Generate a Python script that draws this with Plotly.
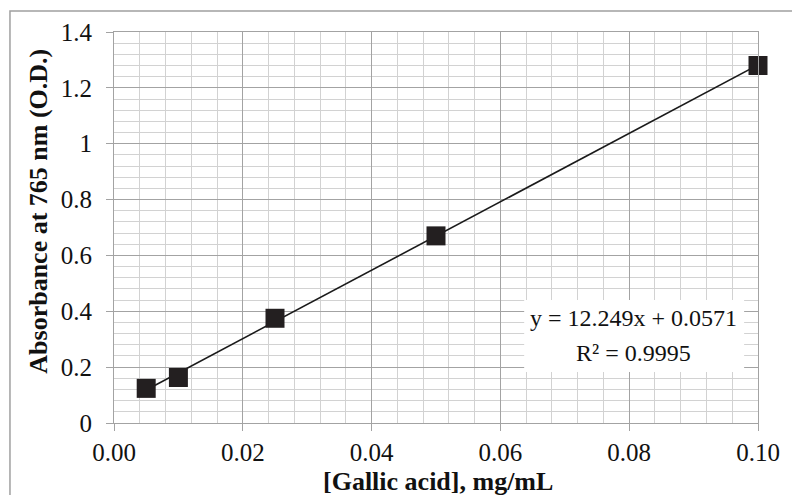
import plotly.graph_objects as go

# Data
conc = [0.005, 0.010, 0.025, 0.050, 0.100]          # [Gallic acid], mg/mL
absorb = [0.124, 0.163, 0.375, 0.670, 1.280]        # Absorbance at 765 nm
slope = 12.249
intercept = 0.0571
eq_text = "y = 12.249x + 0.0571"
r2_text = "R² = 0.9995"
x_title = "[Gallic acid], mg/mL"
y_title = "Absorbance at 765 nm (O.D.)"

fit_x = [min(conc), max(conc)]
fit_y = [slope * v + intercept for v in fit_x]

FONT = "Liberation Serif, Times New Roman, serif"
MAJOR = "#a3a3a3"
MINOR = "#d2d2d2"

fig = go.Figure()
fig.add_trace(go.Scatter(x=fit_x, y=fit_y, mode="lines",
                         line=dict(color="#1a1a1a", width=1.6),
                         hoverinfo="skip", showlegend=False, cliponaxis=False))
fig.add_trace(go.Scatter(x=conc, y=absorb, mode="markers",
                         marker=dict(symbol="square", size=19, color="#231f20",
                                     line=dict(width=0)),
                         showlegend=False, cliponaxis=False))

W, H = 792, 495
L, R, T, B = 114, 28, 32, 72
pw, ph = W - L - R, H - T - B

def px2paper_x(px):
    return (px - L) / pw

def px2paper_y(py):
    return (H - B - py) / ph

fig.update_layout(
    width=W, height=H,
    margin=dict(l=L, r=R, t=T, b=B),
    paper_bgcolor="white", plot_bgcolor="white",
    font=dict(family=FONT, size=25, color="#111111"),
    xaxis=dict(range=[0, 0.10], dtick=0.02, tick0=0, tickformat=".2f",
               showgrid=True, gridcolor=MAJOR, gridwidth=1,
               minor=dict(dtick=0.004, showgrid=True, gridcolor=MINOR, gridwidth=1),
               showline=True, linecolor=MAJOR, linewidth=1, mirror=True,
               ticks="outside", ticklen=7, tickcolor=MAJOR,
               zeroline=False, tickfont=dict(size=25)),
    yaxis=dict(range=[0, 1.4], dtick=0.2, tick0=0,
               showgrid=True, gridcolor=MAJOR, gridwidth=1,
               minor=dict(dtick=0.04, showgrid=True, gridcolor=MINOR, gridwidth=1),
               showline=True, linecolor=MAJOR, linewidth=1, mirror=True,
               ticks="outside", ticklen=7, tickcolor=MAJOR,
               ticklabelstandoff=9,
               zeroline=False, tickfont=dict(size=25)),
    shapes=[
        # outer chart border
        dict(type="rect", xref="paper", yref="paper",
             x0=px2paper_x(9), x1=px2paper_x(830),
             y0=px2paper_y(540), y1=px2paper_y(11),
             line=dict(color="#a0a0a0", width=1.5), fillcolor="rgba(0,0,0,0)",
             layer="below"),
        # equation label background
        dict(type="rect", xref="paper", yref="paper",
             x0=px2paper_x(528), x1=px2paper_x(750),
             y0=px2paper_y(372), y1=px2paper_y(300),
             line=dict(width=0), fillcolor="white", layer="above"),
    ],
    annotations=[
        dict(text=eq_text, xref="paper", yref="paper",
             x=px2paper_x(638), y=px2paper_y(318), showarrow=False,
             xanchor="center", yanchor="middle", font=dict(size=24)),
        dict(text=r2_text, xref="paper", yref="paper",
             x=px2paper_x(638), y=px2paper_y(353), showarrow=False,
             xanchor="center", yanchor="middle", font=dict(size=24)),
        dict(text="<b>" + x_title + "</b>", xref="paper", yref="paper",
             x=px2paper_x(441), y=px2paper_y(481), showarrow=False,
             xanchor="center", yanchor="middle", font=dict(size=26)),
        dict(text="<b>" + y_title + "</b>", xref="paper", yref="paper",
             x=px2paper_x(37), y=px2paper_y(211), showarrow=False,
             textangle=-90, xanchor="center", yanchor="middle", font=dict(size=26)),
    ],
)

fig.write_html("out.html")
